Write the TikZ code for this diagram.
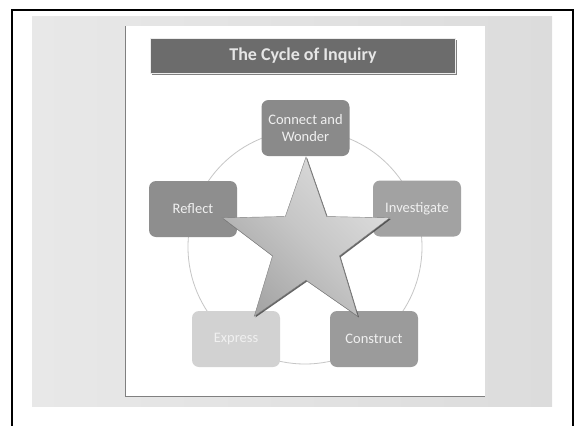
\documentclass[tikz,border=0pt]{standalone}
\usepackage{fontspec}
\setmainfont{Carlito}
\usepackage{tikz}
\usetikzlibrary{shapes.geometric,shadows}

\definecolor{bgleft}{HTML}{E8E8E8}
\definecolor{bgright}{HTML}{DCDCDC}
\definecolor{pageedge}{HTML}{808080}
\definecolor{titlefill}{HTML}{6C6C6C}
\definecolor{titletext}{HTML}{E6E6E6}
\definecolor{ringgray}{HTML}{C6C6C6}
\definecolor{phasetext}{HTML}{F0F0F0}
\definecolor{wondergray}{HTML}{8A8A8A}
\definecolor{investgray}{HTML}{A2A2A2}
\definecolor{constgray}{HTML}{9B9B9B}
\definecolor{expressgray}{HTML}{D2D2D2}
\definecolor{reflectgray}{HTML}{8E8E8E}
\definecolor{starlight}{HTML}{DEDEDE}
\definecolor{starmid}{HTML}{C6C6C6}
\definecolor{stardark}{HTML}{A6A6A6}

\begin{document}
\begin{tikzpicture}[x=1pt,y=-1pt]
    \tikzstyle{phase}=[rounded corners=7pt, minimum width=88pt, minimum height=56pt,
        inner sep=2pt, align=center, text=phasetext, font=\fontsize{14.5}{17}\selectfont]
    \tikzstyle{title}=[fill=titlefill, draw=white!85!gray, line width=1pt,
        minimum width=305pt, minimum height=35pt, text=titletext,
        font=\fontsize{18}{20}\selectfont\bfseries,
        drop shadow={shadow xshift=1.5pt, shadow yshift=-1.5pt, fill=gray, opacity=1}]

    \useasboundingbox (0,0) rectangle (574,426);
    \draw[line width=2pt] (12,426) -- (12,10) -- (573,10) -- (573,426);
    \fill[left color=bgleft, right color=bgright] (32,16) rectangle (552,406);
    \fill[white] (125,26) rectangle (485,396);
    \draw[pageedge, line width=1pt] (125,26) -- (125,396) -- (485,396);

    \node[title] (title) at (303,55.5) {The Cycle of Inquiry};

    \coordinate (hub) at (305,247);
    \draw[ringgray, line width=0.8pt] (hub) circle (117pt);

    \node[phase, fill=wondergray]  (wonder)      at (305.5,128) {Connect and\\Wonder};
    \node[phase, fill=investgray]  (investigate) at (417,208.5) {Investigate};
    \node[phase, fill=constgray]   (construct)   at (374,339)   {Construct};
    \node[phase, fill=expressgray] (express)     at (236,339)   {Express};
    \node[phase, fill=reflectgray] (reflect)     at (193,209)   {Reflect};

    \node[star, star points=5, star point ratio=2.5, minimum size=176pt, inner sep=0pt,
        draw=gray, line width=0.4pt, top color=starlight, bottom color=stardark,
        middle color=starmid, shading angle=-45,
        drop shadow={shadow xshift=1.2pt, shadow yshift=-1.2pt, fill=black!75, opacity=0.8}]
        (star) at (306,245) {};
\end{tikzpicture}
\end{document}
